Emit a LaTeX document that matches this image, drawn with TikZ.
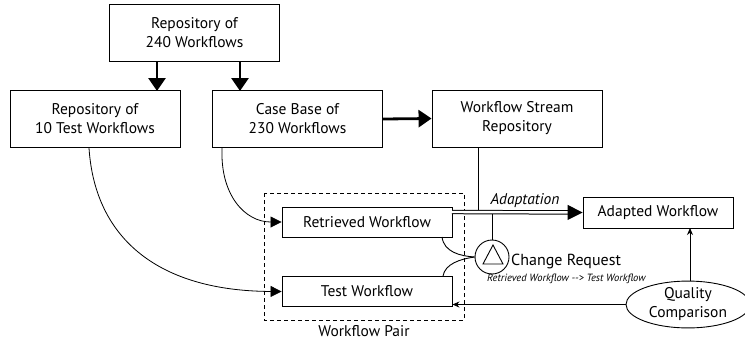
\documentclass[tikz,border=0pt]{standalone}
\usepackage{fontspec}
\setmainfont{PT Sans}
\usetikzlibrary{arrows.meta,shapes.geometric}
\tikzset{
  box/.style={draw,line width=0.9pt,minimum width=170pt,minimum height=57pt,align=center,font=\fontsize{15.5}{19}\selectfont},
  flatbox/.style={box,minimum height=30pt},
  bigtip/.style={-{Triangle[length=13pt,width=17pt]},line width=2.8pt},
  thin tip/.style={-{Stealth[length=7pt,width=6pt]},line width=0.9pt},
  feed/.style={line width=0.8pt,-{Triangle[length=11pt,width=11pt]}},
}
\begin{document}
\begin{tikzpicture}[x=1pt,y=-1pt]
\useasboundingbox (0,0) rectangle (745,341);
% repositories
\node[box] (all) at (194.5,32.5) {Repository of\\240 Workflows};
\node[box] (test) at (95,119) {Repository of\\10 Test Workflows};
\node[box] (cb) at (297.5,119) {Case Base of\\230 Workflows};
\node[box] (wsr) at (517,118.5) {Workflow Stream\\Repository};
\draw[bigtip] (157,61) -- (157,91);
\draw[bigtip] (240,61) -- (240,91);
\draw[bigtip] (cb.east) -- (wsr.west);
% the pair
\draw[dashed,line width=0.9pt,dash pattern=on 4pt off 3pt] (264,193) rectangle (464,320);
\node[font=\fontsize{15.5}{17}\selectfont] (pair) at (364,331) {Workflow Pair};
\node[flatbox] (ret) at (367,222) {Retrieved Workflow};
\node[flatbox] (tw) at (367,291.5) {Test Workflow};
\draw[feed] (cb.south west) ++(10,0) .. controls (220,195) and (245,222) .. (ret.west);
\draw[feed] (test.south) ++(-6,0) .. controls (95,240) and (160,291) .. (tw.west);
% adaptation
\node[flatbox,minimum width=150pt,minimum height=31pt] (adp) at (658,212.5) {Adapted Workflow};
\coordinate (ds) at (452,212);
\draw[line width=1pt,double distance=2.4pt,-{Triangle[length=15pt,width=15pt]}] (ds) -- (adp.west);
\node[font=\fontsize{15.5}{17}\selectfont\itshape,anchor=south,inner sep=2pt] (adlbl) at (525,210) {Adaptation};
\draw[line width=0.9pt] (wsr.south -| 478,0) -- (478,210.2);
% change request
\node[circle,draw,line width=0.9pt,minimum size=34pt,inner sep=0pt] (cr) at (492,257) {};
\draw[line width=0.9pt] (493,245) -- (483,264) -- (503,264) -- cycle;
\draw[line width=0.9pt] (492,213.8) -- (cr.north);
\node[anchor=west,font=\fontsize{16}{18}\selectfont,inner sep=0pt] (crlbl) at (511,261) {Change Request};
\node[anchor=west,font=\fontsize{10.5}{12}\selectfont\itshape,inner sep=0pt] (crsub) at (487,279) {Retrieved Workflow -{}-{}> Test Workflow};
\draw[line width=0.9pt] (442,237) .. controls (444,252) and (460,256) .. (cr.west);
\draw[line width=0.9pt] (443,276) .. controls (445,264) and (460,259) .. (cr.west);
% quality comparison
\node[ellipse,draw,line width=0.9pt,minimum width=124pt,minimum height=41pt,inner sep=0pt,align=center,font=\fontsize{15.5}{19}\selectfont] (qc) at (688,304.5) {Quality\\Comparison};
\draw[thin tip] (qc.west) -- (tw.east |- qc.west);
\draw[thin tip] (qc.north -| 690,0) -- (690,228);
\end{tikzpicture}
\end{document}
